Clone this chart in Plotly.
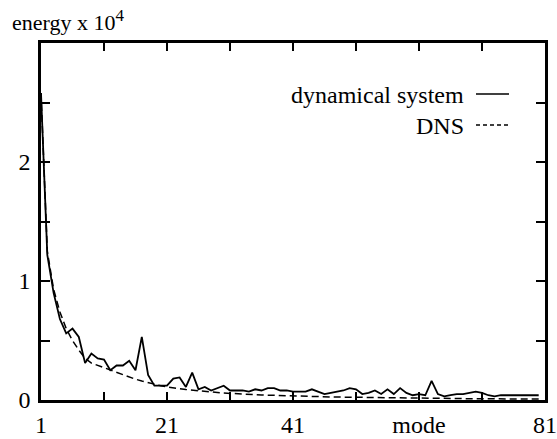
import plotly.graph_objects as go

modes = list(range(1, 81))
dyn_sys = [2.58, 1.22, 0.90, 0.68, 0.56, 0.60, 0.53, 0.31, 0.39, 0.35,
           0.34, 0.25, 0.29, 0.29, 0.33, 0.25, 0.53, 0.21, 0.12, 0.12,
           0.12, 0.18, 0.19, 0.11, 0.23, 0.09, 0.11, 0.08, 0.10, 0.12,
           0.08, 0.08, 0.08, 0.07, 0.09, 0.08, 0.10, 0.10, 0.08, 0.08,
           0.07, 0.07, 0.07, 0.09, 0.07, 0.05, 0.06, 0.07, 0.08, 0.10,
           0.09, 0.05, 0.06, 0.08, 0.05, 0.09, 0.05, 0.10, 0.06, 0.04,
           0.05, 0.04, 0.16, 0.05, 0.03, 0.04, 0.05, 0.05, 0.06, 0.07,
           0.06, 0.04, 0.03, 0.04, 0.04, 0.04, 0.04, 0.04, 0.04, 0.04]
dns = [2.58, 1.25, 0.93, 0.74, 0.60, 0.50, 0.42, 0.35, 0.31, 0.29,
       0.27, 0.25, 0.23, 0.21, 0.19, 0.175, 0.16, 0.145, 0.13, 0.12,
       0.11, 0.10, 0.095, 0.088, 0.082, 0.077, 0.072, 0.067, 0.063, 0.059,
       0.055, 0.052, 0.049, 0.046, 0.044, 0.042, 0.040, 0.038, 0.036, 0.034,
       0.033, 0.031, 0.030, 0.029, 0.028, 0.027, 0.026, 0.025, 0.024, 0.023,
       0.022, 0.021, 0.020, 0.020, 0.019, 0.018, 0.018, 0.017, 0.016, 0.016,
       0.015, 0.015, 0.014, 0.014, 0.013, 0.013, 0.012, 0.012, 0.011, 0.011,
       0.010, 0.010, 0.010, 0.009, 0.009, 0.009, 0.008, 0.008, 0.008, 0.008]
x_tickvals = [1, 21, 41, 61, 81]
x_ticktext = ["1", "21", "41", "mode", "81"]
y_tickvals = [0, 1, 2]
y_ticktext = ["0", "1", "2"]

FONT = "Liberation Serif, Times New Roman, Times, serif"

fig = go.Figure()
fig.add_trace(go.Scatter(x=modes, y=dyn_sys, mode="lines",
                         line=dict(color="black", width=1.8),
                         showlegend=False))
fig.add_trace(go.Scatter(x=modes, y=dns, mode="lines",
                         line=dict(color="black", width=1.5, dash="7px,4px"),
                         showlegend=False))

W, H = 557, 439
# plot area in window pixels: x 41..545, y 43..400
L, R, T, B = 41, W - 545, 43, H - 400
pw, ph = W - L - R, H - T - B

def px(x):
    return (x - L) / pw

def py(y):
    return (400 - y) / ph

fig.update_layout(
    width=W, height=H,
    margin=dict(l=L, r=R, t=T, b=B, autoexpand=False),
    paper_bgcolor="white", plot_bgcolor="white",
    font=dict(family=FONT, size=24, color="black"),
    xaxis=dict(range=[1, 81], tickvals=x_tickvals, ticktext=x_ticktext,
               ticks="inside", ticklen=8, tickwidth=2, tickcolor="black",
               showline=True, linewidth=2.5, linecolor="black", mirror="allticks",
               showgrid=False, zeroline=False, ticklabelstandoff=1,
               ticklabeloverflow="allow",
               tickfont=dict(family=FONT, size=24),
               minor=dict(tick0=1, dtick=10, ticks="inside", ticklen=8,
                          tickwidth=2, tickcolor="black", showgrid=False)),
    yaxis=dict(range=[0, 3], tickvals=y_tickvals, ticktext=y_ticktext,
               ticks="inside", ticklen=9, tickwidth=2, tickcolor="black",
               showline=True, linewidth=2.5, linecolor="black", mirror="allticks",
               showgrid=False, zeroline=False, ticklabelstandoff=3,
               tickfont=dict(family=FONT, size=24),
               minor=dict(tick0=0, dtick=0.5, ticks="inside", ticklen=9,
                          tickwidth=2, tickcolor="black", showgrid=False)),
    showlegend=False,
)

fig.add_annotation(text="energy x 10<sup><span style='font-size:17px'>4</span></sup>",
                   xref="paper", yref="paper",
                   x=px(10), y=py(20), xanchor="left", yanchor="middle",
                   showarrow=False, font=dict(family=FONT, size=22))

for label, yy, dash in [("dynamical system", 95, "solid"), ("DNS", 126, "4px,3px")]:
    fig.add_annotation(text=label, xref="paper", yref="paper",
                       x=px(466), y=py(yy), xanchor="right", yanchor="middle",
                       showarrow=False, font=dict(family=FONT, size=24))
    fig.add_shape(type="line", xref="paper", yref="paper",
                  x0=px(476), x1=px(509), y0=py(yy - 1), y1=py(yy - 1),
                  line=dict(color="black", width=1.5, dash=dash))

fig.write_html("out.html",
               config={"displayModeBar": False},
               post_script="document.body.style.margin='0';"
                           "document.body.style.overflow='hidden';")
